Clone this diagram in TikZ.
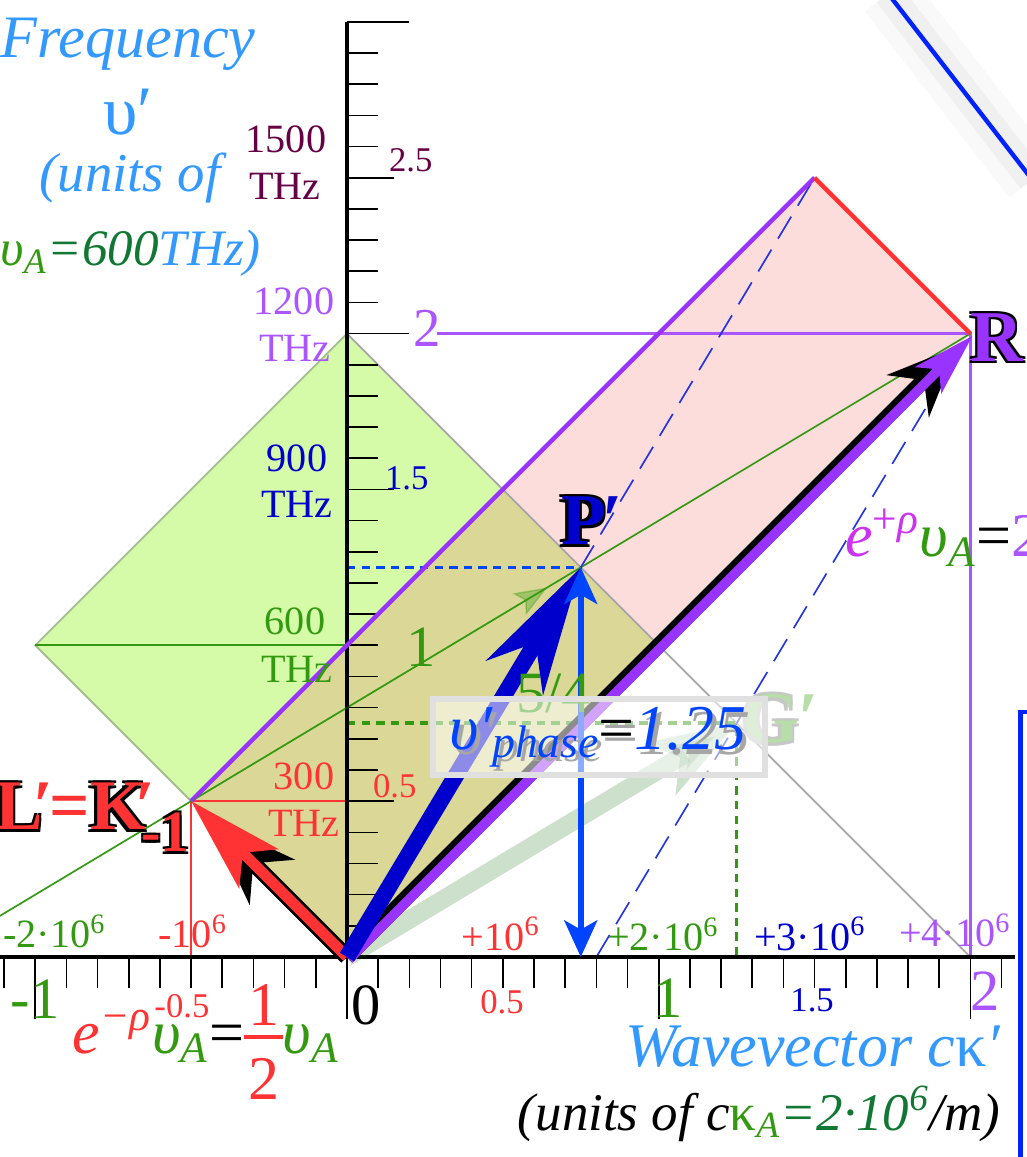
\documentclass[tikz,border=0pt]{standalone}
\usepackage{fontspec}
\setmainfont{Liberation Serif}
\usetikzlibrary{arrows.meta,calc}
\definecolor{lblue}{HTML}{3399FF}
\definecolor{mgreen}{HTML}{339911}
\definecolor{dgreen}{HTML}{117733}
\definecolor{purp}{HTML}{9933FF}
\definecolor{lpurp}{HTML}{AA55FF}
\definecolor{dpurp}{HTML}{660044}
\definecolor{dblue}{HTML}{0000CC}
\definecolor{bblue}{HTML}{0044FF}
\definecolor{rred}{HTML}{FF3333}
\definecolor{magen}{HTML}{CC33EE}
\definecolor{gfill}{HTML}{D5FBA9}
\definecolor{pfill}{HTML}{FDDCDC}
\definecolor{ofill}{HTML}{DBD897}
\definecolor{gborder}{HTML}{A3BD8C}
\definecolor{dashblue}{HTML}{2233DD}
\definecolor{frameblue}{HTML}{0022FF}
\definecolor{fadegreen}{HTML}{B8DDA8}
\newcommand\fsz[1]{\fontsize{#1}{#1}\selectfont}
\newcommand\outlc[3]{\leavevmode\rlap{\color{#1}\kern-0.6pt\raisebox{0.6pt}{#3}}\rlap{\color{#1}\kern0.6pt\raisebox{-0.6pt}{#3}}\rlap{\color{#1}\kern0.6pt\raisebox{0.6pt}{#3}}\rlap{\color{#1}\kern-0.6pt\raisebox{-0.6pt}{#3}}{\color{#2}#3}}
\newcommand\outl[2]{\outlc{black}{#1}{#2}}
\newcommand\phasetext[2]{{\color{#1}\itshape υ′\raisebox{-2pt}{\fsz{12.5}phase}}{\color{#2}=}{\color{#1}\itshape 1.25}}
\newcommand\halffrac{\rlap{\makebox[0.62em]{\raisebox{0.44em}{1}}}\rlap{\raisebox{0.22em}{\rule{0.62em}{1.1pt}}}\makebox[0.62em]{\raisebox{-0.75em}{2}}}
\begin{document}
\begin{tikzpicture}[x=3cm,y=3cm,
  lbl/.style={inner sep=0pt, outer sep=0pt},
  thinl/.style={line width=0.45pt},
  tickl/.style={line width=0.45pt, black},
  axisl/.style={line width=0.9pt, black}]
\useasboundingbox (-1.11325,-0.64164) rectangle (2.17838,3.07026);
\fill[white] (-1.11325,-0.64164) rectangle (2.17838,3.07026);
% key points
\coordinate (O) at (0,0);
\coordinate (L) at (-0.5,0.5);
\coordinate (P) at (0.75,1.25);
\coordinate (R) at (2,2);
\coordinate (G) at (1.25,0.75);
\coordinate (T) at (1.5,2.5);
\coordinate (A) at (1,1);
\coordinate (B) at (0,2);
\coordinate (C) at (-1,1);
\coordinate (Q) at (0.5,1.5);
\coordinate (X2) at (2,0);
\coordinate (Pb) at (0.75,0);
\coordinate (Py) at (0,1.25);
\coordinate (Gy) at (0,0.75);
\coordinate (Gx) at (1.25,0);
\coordinate (Ly) at (0,0.5);
\coordinate (Lx) at (-0.5,0);
\coordinate (C0) at (0,1);
\coordinate (D8) at (0.8,0);
\coordinate (Rl) at (0.289,2);
\coordinate (Wl) at (-1.11325,0.132);
\coordinate (Gt) at ($(L)!0.914!(P)$);
% regions
\fill[gfill] (O)--(A)--(B)--(C)--cycle;
\fill[pfill] (O)--(R)--(T)--(L)--cycle;
\fill[ofill] (O)--(A)--(Q)--(L)--cycle;
\draw[gborder, line width=0.5pt] (L)--(C)--(B);
\draw[black!35, line width=0.5pt] (B)--(X2);
% thin guide lines
\draw[mgreen, thinl] (C)--(C0);
\draw[rred, thinl] (Lx)--(L)--(Ly);
\draw[lpurp, line width=0.7pt] (Rl)--(R)--(X2);
\draw[mgreen, thinl] (Wl)--(R);
% dashed
\draw[bblue, line width=1pt, dash pattern=on 2.3pt off 1.7pt] (Py)--(P);
\draw[mgreen, line width=1pt, dash pattern=on 2.3pt off 1.7pt] (Gy)--(G)--(Gx);
\draw[dashblue, line width=0.45pt, dash pattern=on 7pt off 3.5pt] (P)--(T);
\draw[dashblue, line width=0.45pt, dash pattern=on 7pt off 3.5pt] (D8)--(R);
% axes
\draw[axisl] (0,0)--(0,3);
\draw[axisl] (-1.11325,0)--(2.143,0);
\foreach \i in {1,...,30}{
  \draw[tickl] (0,\i/10)--({0.1+0.05*(\i==5||\i==15||\i==25)+0.1*(\i==20||\i==30)},\i/10);}
\foreach \i in {-11,...,21}{
  \draw[tickl] (\i/10,0)--(\i/10,{-0.1-0.1*(\i==-10||\i==0||\i==10||\i==20)});}
% light cone edges
\draw[purp, line width=1.2pt] (L)--(T);
\draw[rred, line width=1.2pt] (T)--(R);
% arrows
\draw[mgreen, opacity=0.35, line width=0.4pt, -{Stealth[length=9pt,width=7pt,inset=2pt]}] (L)--(Gt);
\draw[black!60!green, opacity=0.2, line width=5pt, -{Stealth[length=24pt,width=16pt,inset=6pt]}] (O)--(G);
\draw[black, line width=4.2pt, -{Stealth[length=19pt,width=16pt,inset=6pt]}, shorten >=5pt] (O)--(R);
\draw[purp, line width=2.6pt, -{Stealth[length=17pt,width=10pt,inset=4pt]}, transform canvas={shift={(0.6pt,-0.6pt)}}] (O)--(R);
\draw[black, line width=4.4pt, -{Stealth[length=24pt,width=17pt,inset=7pt]}, shorten >=7pt] (O)--(L);
\draw[rred, line width=3pt, -{Stealth[length=26pt,width=15pt,inset=6pt]}] (O)--(L);
\draw[dblue, line width=4.5pt, -{Stealth[length=35pt,width=18pt,inset=11pt]}] (O)--(P);
\draw[bblue, line width=1.6pt, {Stealth[length=10pt,width=9pt,inset=2.5pt]}-{Stealth[length=10pt,width=9pt,inset=2.5pt]}] (P)--(Pb);
% labels in pixel coordinates
\begin{scope}[x=0.0096246cm, y=-0.0096246cm, shift={(-347,-957)}]
% frames of neighbouring panel
\draw[black, opacity=0.025, line width=16pt] (888,-6)--(1032,180);
\draw[black, opacity=0.035, line width=8pt] (888,-6)--(1032,180);
\draw[frameblue, line width=1.2pt] (888,-6)--(1032,180);
\draw[frameblue, line width=1.3pt] (1032,712)--(1020,712)--(1020,1165);
% title
\node[lbl, anchor=base, text=lblue, font=\fsz{16.5}\itshape] (tFreq) at (128,58) {Frequency};
\node[lbl, anchor=base, text=lblue, font=\fsz{19}] (tnu) at (128,135) {υ′};
\node[lbl, anchor=base, text=lblue, font=\fsz{15}\itshape] (tunits) at (130,192) {(units of};
\node[lbl, anchor=base east, font=\fsz{14}\itshape] (tnuA) at (261,266) {\textcolor{mgreen}{υ\textsubscript{A}}\textcolor{dgreen}{=600}\textcolor{lblue}{THz)}};
% vertical axis labels
\node[lbl, anchor=base, text=dpurp, font=\fsz{11}] (t1500) at (286,153) {1500};
\node[lbl, anchor=base, text=dpurp, font=\fsz{11}] (t1500u) at (285,200) {THz};
\node[lbl, anchor=base west, text=dpurp, font=\fsz{9.5}] (tv25) at (389,172) {2.5};
\node[lbl, anchor=base, text=lpurp, font=\fsz{11}] (t1200) at (294,315) {1200};
\node[lbl, anchor=base, text=lpurp, font=\fsz{11}] (t1200u) at (295,362) {THz};
\node[lbl, anchor=base, text=lpurp, font=\fsz{15}] (tv2) at (427,347) {2};
\node[lbl, anchor=base, text=dblue, font=\fsz{11}] (t900) at (297,472) {900};
\node[lbl, anchor=base, text=dblue, font=\fsz{11}] (t900u) at (297,518) {THz};
\node[lbl, anchor=base west, text=dblue, font=\fsz{9.5}] (tv15) at (385,490) {1.5};
\node[lbl, anchor=base, text=mgreen, font=\fsz{11}] (t600) at (295,635) {600};
\node[lbl, anchor=base, text=mgreen, font=\fsz{11}] (t600u) at (297,683) {THz};
\node[lbl, anchor=base, text=mgreen, font=\fsz{16}] (tv1) at (421,667) {1};
\node[lbl, anchor=base, text=rred, font=\fsz{11}] (t300) at (304,790) {300};
\node[lbl, anchor=base, text=rred, font=\fsz{11}] (t300u) at (304,837) {THz};
\node[lbl, anchor=base west, text=rred, font=\fsz{9.5}] (tv05) at (373,798) {0.5};
% horizontal axis labels
\node[lbl, anchor=base, text=mgreen, font=\fsz{11}] (hm2) at (55,948) {-2·10\textsuperscript{6}};
\node[lbl, anchor=base, text=rred, font=\fsz{11}] (hm1) at (193,948) {-10\textsuperscript{6}};
\node[lbl, anchor=base, text=rred, font=\fsz{11}] (hp1) at (501,950) {+10\textsuperscript{6}};
\node[lbl, anchor=base, text=mgreen, font=\fsz{11}] (hp2) at (663,951) {+2·10\textsuperscript{6}};
\node[lbl, anchor=base, text=dblue, font=\fsz{11}] (hp3) at (810,950) {+3·10\textsuperscript{6}};
\node[lbl, anchor=base, text=lpurp, font=\fsz{11}] (hp4) at (955,947) {+4·10\textsuperscript{6}};
\node[lbl, anchor=base, text=black, font=\fsz{16}] (hx0) at (366,1024) {0};
\node[lbl, anchor=base, text=rred, font=\fsz{9.5}] (hx05) at (502,1013) {0.5};
\node[lbl, anchor=base, text=mgreen, font=\fsz{16}] (hx1) at (668,1017) {1};
\node[lbl, anchor=base, text=dblue, font=\fsz{9.5}] (hx15) at (812,1011) {1.5};
\node[lbl, anchor=base, text=lpurp, font=\fsz{16}] (hx2) at (985,1010) {2};
\node[lbl, anchor=base, text=mgreen, font=\fsz{16}] (hxm1) at (35,1018) {-1};
\node[lbl, anchor=base, text=rred, font=\fsz{9.5}] (hxm05) at (182,1017) {-0.5};
% formulas
\node[lbl, anchor=base west, font=\fsz{17}] (fneg) at (73,1053) {\textcolor{rred}{\textit{e}\textsuperscript{\textit{−ρ}}}\textcolor{mgreen}{\textit{υ}\textsubscript{\textit{A}}}=\textcolor{rred}{\halffrac}\textcolor{mgreen}{\textit{υ}\textsubscript{\textit{A}}}};
\node[lbl, anchor=base west, font=\fsz{17}] (fpos) at (845,557) {\textcolor{magen}{\textit{e}\textsuperscript{+\textit{ρ}}}\textcolor{mgreen}{\textit{υ}\textsubscript{\textit{A}}}=\textcolor{lpurp}{2}};
\node[lbl, anchor=base east, text=lblue, font=\fsz{17}\itshape] (wv) at (1000,1066) {Wavevector c{\upshape κ}′};
\node[lbl, anchor=base east, font=\fsz{14.5}\itshape] (wu) at (1000,1130) {(units of c\textcolor{mgreen}{{\upshape κ}\textsubscript{A}}\textcolor{dgreen}{=2·10\textsuperscript{6}}/m)};
% point labels
\node[lbl, anchor=base east, font=\fsz{19.5}\bfseries] (lbL) at (190,830) {\outl{rred}{L}\kern-0.14em\textcolor{rred}{′\kern-0.05em=}\outl{rred}{K}\kern-0.14em\textcolor{rred}{′}\kern-0.2em\outl{rred}{\raisebox{-6pt}{\fsz{16}-1}}};
\node[lbl, anchor=base west, font=\fsz{20}\bfseries] (lbP) at (561,545) {\outl{dblue}{P}\kern-0.05em\textcolor{dblue}{′}};
\node[lbl, anchor=base west, font=\fsz{20}\bfseries] (lbR) at (970,362) {\outl{purp}{R}\textcolor{purp}{′}};
\node[lbl, anchor=base west, font=\fsz{20}\bfseries] (lbG) at (742,743) {\outlc{black!22}{fadegreen}{G}\textcolor{fadegreen}{′}};
\node[lbl, anchor=base west, text=mgreen, font=\fsz{16}] (lb54) at (516,713) {5/4};
% phase velocity box
\draw[fill=white, fill opacity=0.55, draw=black!12, line width=1.5pt] (433,699) rectangle (765,775);
\node[lbl, anchor=base west, font=\fsz{17.5}] (lbphase) at (449,750) {\rlap{\kern1.1pt\raisebox{-1.2pt}{\phasetext{black!35}{black!35}}}\phasetext{bblue}{black}};
\end{scope}
\end{tikzpicture}
\end{document}
